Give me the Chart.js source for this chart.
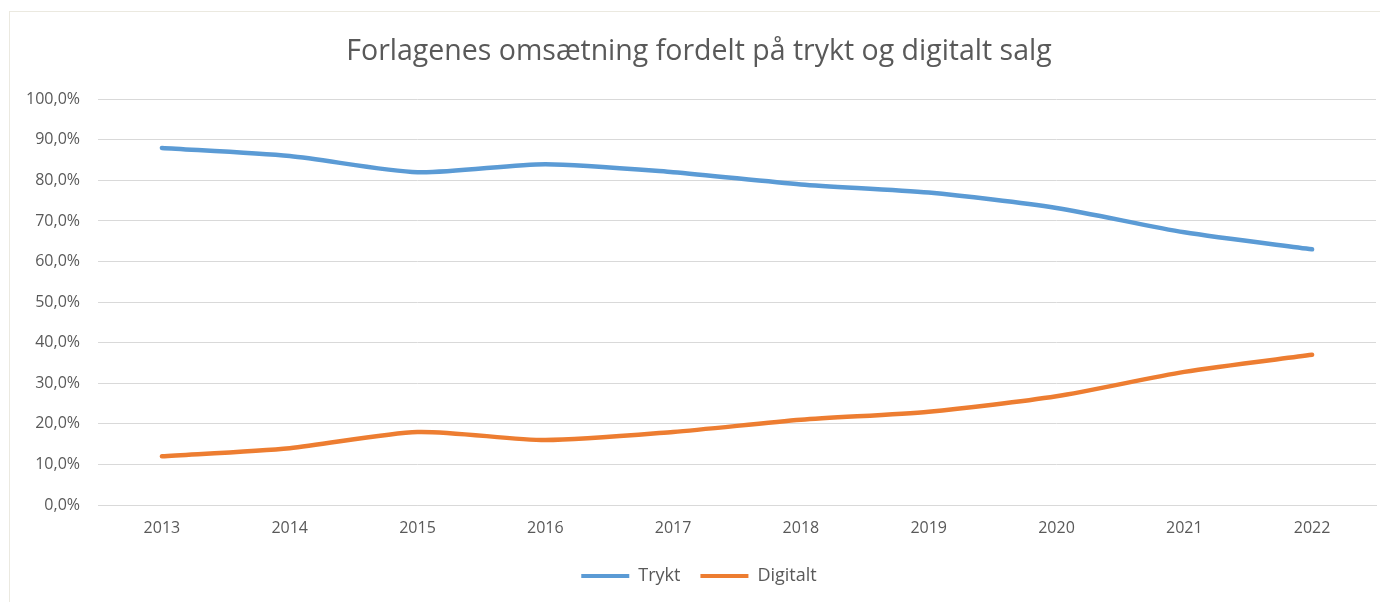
<!DOCTYPE html>
<html>
<head>
<meta charset="utf-8">
<script src="https://cdn.jsdelivr.net/npm/chart.js@4/dist/chart.umd.min.js"></script>
<style>
  html, body { margin: 0; padding: 0; background: #ffffff; }
  #wrap { position: relative; width: 1380px; height: 602px; overflow: hidden; }
  #frame { position: absolute; left: 9px; top: 11px; width: 1400px; height: 620px; border: 1px solid #ebe9e0; box-sizing: border-box; }
  canvas { position: absolute; left: 0; top: 0; }
</style>
</head>
<body>
<div id="wrap">
  <div id="frame"></div>
  <canvas id="c" width="1380" height="602"></canvas>
</div>
<script>
const titleText = "Forlagenes omsætning fordelt på trykt og digitalt salg";
const years = ["2013","2014","2015","2016","2017","2018","2019","2020","2021","2022"];
const trykt = [88, 86, 82, 84, 82, 79, 77, 73.2, 67.2, 63];
const digitalt = [12, 14, 18, 16, 18, 21, 23, 26.8, 32.8, 37];
const seriesNames = ["Trykt", "Digitalt"];
const seriesColors = ["#5b9bd5", "#ed7d31"];

const FONT = "'Open Sans', 'Noto Sans', sans-serif";

new Chart(document.getElementById('c'), {
  type: 'line',
  data: {
    labels: years,
    datasets: [
      { label: seriesNames[0], data: trykt, borderColor: seriesColors[0], backgroundColor: seriesColors[0],
        borderWidth: 4.5, pointRadius: 0, tension: 0.25, borderCapStyle: 'round', borderJoinStyle: 'round' },
      { label: seriesNames[1], data: digitalt, borderColor: seriesColors[1], backgroundColor: seriesColors[1],
        borderWidth: 4.5, pointRadius: 0, tension: 0.25, borderCapStyle: 'round', borderJoinStyle: 'round' }
    ]
  },
  options: {
    responsive: false,
    animation: false,
    layout: { padding: { left: 22, right: 4, top: 0, bottom: 7 } },
    plugins: {
      title: {
        display: true, text: titleText, color: '#595959',
        font: { family: FONT, size: 28.5, weight: 'normal' },
        padding: { top: 35, bottom: 30 }
      },
      legend: {
        position: 'bottom',
        labels: {
          color: '#595959',
          font: { family: FONT, size: 18 },
          boxWidth: 48, boxHeight: 4, padding: 20,
          generateLabels: (chart) => {
            const items = Chart.defaults.plugins.legend.labels.generateLabels(chart);
            items.forEach((it, i) => { it.lineWidth = 0; it.fillStyle = seriesColors[i]; it.strokeStyle = seriesColors[i]; });
            return items;
          }
        }
      },
      tooltip: { enabled: false }
    },
    scales: {
      x: {
        offset: true,
        afterFit: (s) => { s.height = 42; },
        grid: { display: false, drawTicks: false, offset: true },
        border: { display: true, color: '#d9d9d9', width: 1 },
        ticks: { color: '#595959', font: { family: FONT, size: 16 }, padding: 14 }
      },
      y: {
        min: 0, max: 100,
        afterFit: (s) => { s.width = 76; },
        grid: { color: '#d9d9d9', lineWidth: 1, drawTicks: false },
        border: { display: false },
        ticks: {
          stepSize: 10, color: '#595959', font: { family: FONT, size: 16 }, padding: 18,
          callback: (v) => v.toFixed(1).replace('.', ',') + '%'
        }
      }
    }
  }
});
</script>
</body>
</html>
